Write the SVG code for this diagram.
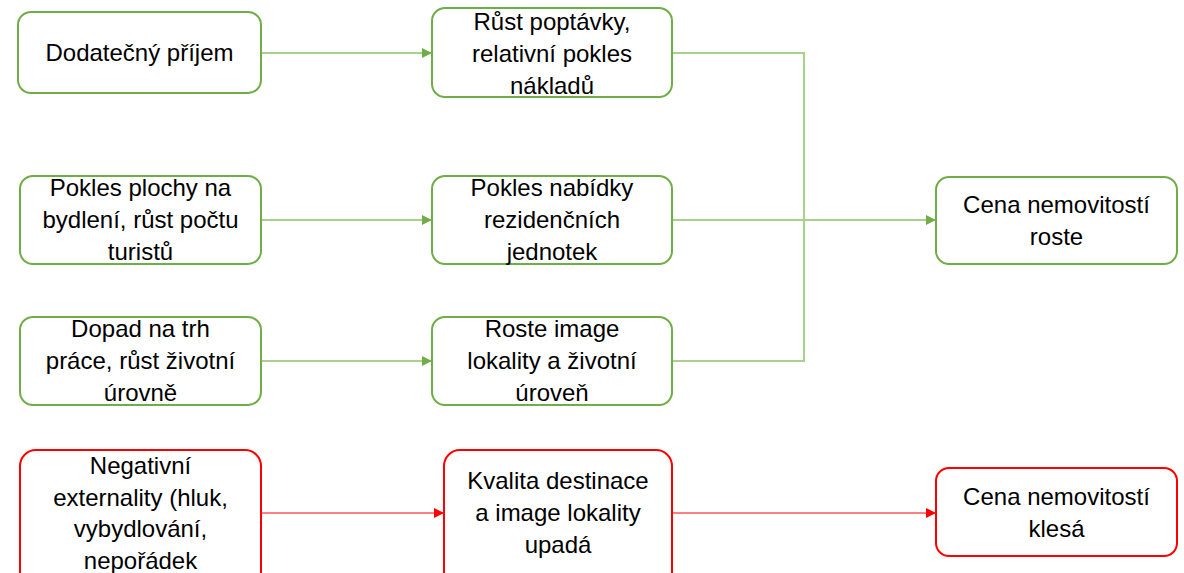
<svg xmlns="http://www.w3.org/2000/svg" width="1184" height="573" viewBox="0 0 1184 573">
<style>
.g rect{fill:#fff;stroke:#70AD47;stroke-width:2}
.r rect{fill:#fff;stroke:#FF0000;stroke-width:2}
text{font-family:"Liberation Sans",Arial,sans-serif;font-size:24px;fill:#000;text-anchor:middle}
.cg{fill:none;stroke:#A9D18E;stroke-width:2}
.cr{fill:none;stroke:#FF8080;stroke-width:2}
</style>
<defs>
<marker id="ag" markerWidth="10" markerHeight="10" refX="9" refY="5" orient="auto" markerUnits="userSpaceOnUse"><path d="M0,0 L10,5 L0,10 z" fill="#70AD47"/></marker>
<marker id="ar" markerWidth="10" markerHeight="10" refX="9" refY="5" orient="auto" markerUnits="userSpaceOnUse"><path d="M0,0 L10,5 L0,10 z" fill="#FF0000"/></marker>
</defs>
<rect width="1184" height="573" fill="#fff"/>
<g id="connectors">
<path class="cg" d="M261,53 H431" marker-end="url(#ag)"/>
<path class="cg" d="M261,220 H431" marker-end="url(#ag)"/>
<path class="cg" d="M261,361 H431" marker-end="url(#ag)"/>
<path class="cg" d="M672,53 H804 V361 H672"/>
<path class="cg" d="M672,220 H935" marker-end="url(#ag)"/>
<path class="cr" d="M261,513 H443" marker-end="url(#ar)"/>
<path class="cr" d="M672,513 H935" marker-end="url(#ar)"/>
</g>
<g id="n1" class="g"><rect x="18" y="12" width="243" height="81" rx="13"/><text x="139.5" y="61">Dodatečný příjem</text></g>
<g id="n2" class="g"><rect x="432" y="8" width="240" height="89" rx="13"/><text x="552" y="30">Růst poptávky,</text><text x="552" y="62">relativní pokles</text><text x="552" y="94">nákladů</text></g>
<g id="n3" class="g"><rect x="20" y="176" width="241" height="88" rx="13"/><text x="140.5" y="196">Pokles plochy na</text><text x="140.5" y="228">bydlení, růst počtu</text><text x="140.5" y="260">turistů</text></g>
<g id="n4" class="g"><rect x="432" y="176" width="240" height="88" rx="13"/><text x="552" y="196">Pokles nabídky</text><text x="552" y="228">rezidenčních</text><text x="552" y="260">jednotek</text></g>
<g id="n5" class="g"><rect x="20" y="317" width="241" height="88" rx="13"/><text x="140.5" y="337">Dopad na trh</text><text x="140.5" y="369">práce, růst životní</text><text x="140.5" y="401">úrovně</text></g>
<g id="n6" class="g"><rect x="432" y="317" width="240" height="88" rx="13"/><text x="552" y="337">Roste image</text><text x="552" y="369">lokality a životní</text><text x="552" y="401">úroveň</text></g>
<g id="n7" class="g"><rect x="936" y="177" width="241" height="87" rx="13"/><text x="1056.5" y="213">Cena nemovitostí</text><text x="1056.5" y="245">roste</text></g>
<g id="n8" class="r"><rect x="20" y="450" width="241" height="140" rx="16"/><text x="140.5" y="474">Negativní</text><text x="140.5" y="505.5">externality (hluk,</text><text x="140.5" y="537">vybydlování,</text><text x="140.5" y="568.5">nepořádek</text></g>
<g id="n9" class="r"><rect x="444" y="450" width="228" height="140" rx="16"/><text x="558" y="489">Kvalita destinace</text><text x="558" y="521">a image lokality</text><text x="558" y="553">upadá</text></g>
<g id="n10" class="r"><rect x="936" y="468" width="241" height="88" rx="13"/><text x="1056.5" y="505">Cena nemovitostí</text><text x="1056.5" y="537">klesá</text></g>
</svg>
